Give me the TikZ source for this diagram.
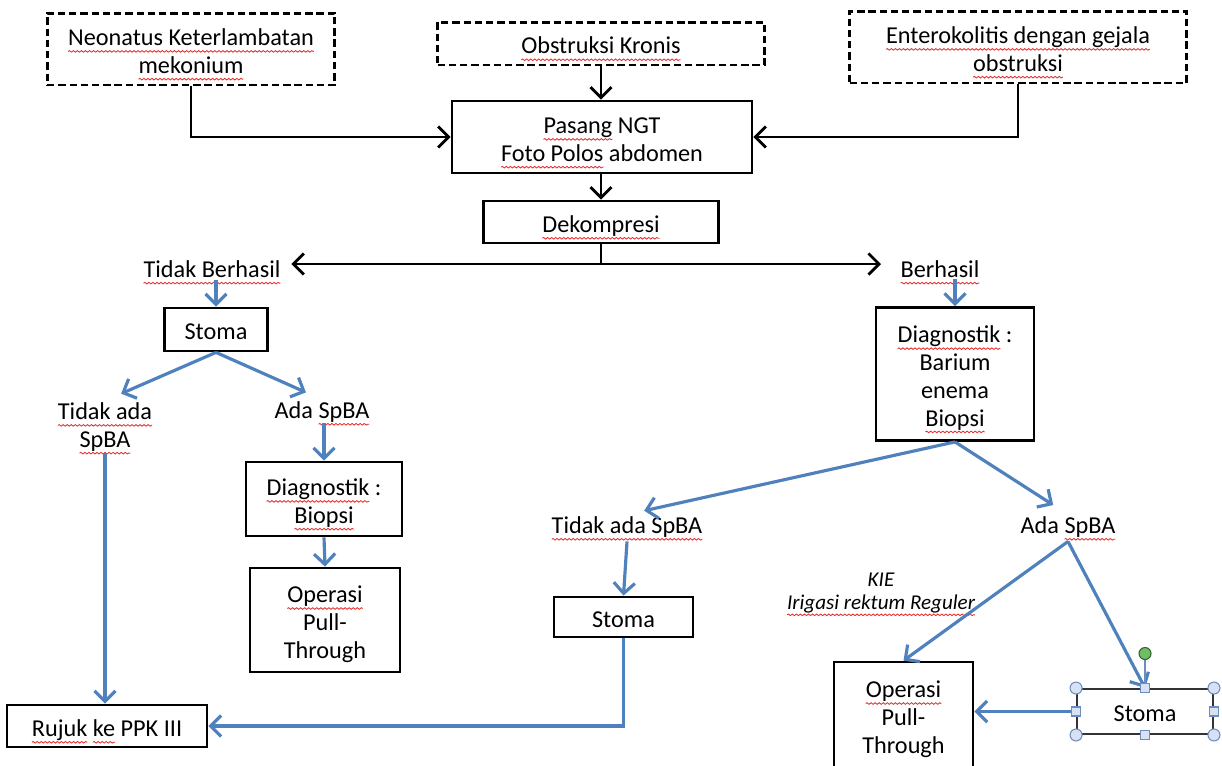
\documentclass[tikz,border=0pt]{standalone}
\usepackage{fontspec}
\setmainfont{Carlito}
\usetikzlibrary{arrows.meta,decorations.pathmorphing}
\definecolor{officeblue}{RGB}{79,129,189}
\definecolor{handlefill}{RGB}{214,226,242}
\definecolor{handledraw}{RGB}{110,140,190}
\definecolor{rotgreen}{RGB}{110,190,100}
\definecolor{spellred}{RGB}{230,50,50}
\newlength\sqlen
\newcommand\sqw[1]{\setbox0=\hbox{#1}\sqlen=\wd0\leavevmode\rlap{\copy0}\tikz[baseline=0pt]{\useasboundingbox (0pt,0pt) rectangle (\sqlen,0pt);\draw[spellred, line width=0.5pt, decorate, decoration={snake, amplitude=0.45pt, segment length=2.3pt}] (0pt,-3.3pt) -- (\sqlen,-3.3pt);}}
\newcommand\tx[1]{\raisebox{-2.8pt}[\height][\depth]{\begin{tabular}{@{}c@{}}#1\end{tabular}}}
\begin{document}
\begin{tikzpicture}[x=0.02cm,y=-0.02cm,
  font=\fontsize{13.8}{15.8}\selectfont,
  box/.style={draw=black, line width=1.6pt, align=center, inner sep=0pt},
  dbox/.style={box, line width=1.7pt, dash pattern=on 4.2pt off 2.2pt},
  lbl/.style={align=center, inner sep=1pt},
  blk/.style={draw=black, line width=1.6pt, -{Straight Barb[length=6pt,width=12pt,line width=1.6pt]}},
  blkboth/.style={draw=black, line width=1.6pt, {Straight Barb[length=6pt,width=12pt,line width=1.6pt]}-{Straight Barb[length=6pt,width=12pt,line width=1.6pt]}},
  blkline/.style={draw=black, line width=1.6pt},
  blu/.style={draw=officeblue, line width=1.8pt, -{Straight Barb[length=6pt,width=12pt,line width=1.8pt]}},
  hcirc/.style={circle, draw=handledraw, fill=handlefill, line width=0.6pt, minimum size=0.24cm, inner sep=0pt},
  hsq/.style={rectangle, draw=handledraw, fill=handlefill, line width=0.6pt, minimum size=0.18cm, inner sep=0pt},
]
\useasboundingbox (0,0) rectangle (1222,765);

% top row
\node[dbox, minimum width=5.76cm, minimum height=1.44cm] (neo) at (191,49) {\tx{\sqw{Neonatus Keterlambatan}\\\sqw{mekonium}}};
\node[dbox, minimum width=6.54cm, minimum height=0.86cm] (obs) at (601,43.5) {\tx{\sqw{Obstruksi Kronis}}};
\node[dbox, minimum width=6.74cm, minimum height=1.44cm] (ent) at (1018,47) {\tx{\sqw{Enterokolitis dengan gejala}\\\sqw{obstruksi}}};
\node[box, minimum width=6.0cm, minimum height=1.44cm] (pas) at (602,137) {\tx{\sqw{Pasang} NGT\\\sqw{Foto Polos} abdomen}};
\node[box, minimum width=4.7cm, minimum height=0.84cm] (dek) at (601,222) {\tx{\sqw{Dekompresi}}};

\draw[blk] (neo.south) |- (pas.west);
\draw[blk] (obs.south) -- (obs.south |- pas.north);
\draw[blk] (ent.south) |- (pas.east);
\draw[blk] (pas.south -| dek.north) -- (dek.north);

% split
\node[lbl] (tb) at (212,269) {\sqw{Tidak Berhasil}};
\node[lbl] (be) at (940,269) {\sqw{Berhasil}};
\coordinate (split) at (601,264);
\draw[blkline] (dek.south) -- (split);
\draw[blkboth, shorten <=5pt, shorten >=10pt] (tb.east |- split) -- (be.west |- split);

% left branch
\node[box, minimum width=2.06cm, minimum height=0.86cm] (st1) at (216,329.5) {\tx{Stoma}};
\node[lbl] (tas1) at (105,427) {\sqw{Tidak ada}\\\sqw{SpBA}};
\node[lbl] (as1) at (322,412) {Ada \sqw{SpBA}};
\node[box, minimum width=3.12cm, minimum height=1.48cm] (dg1) at (324,499) {\tx{\sqw{Diagnostik} :\\\sqw{Biopsi}}};
\node[box, minimum width=3.0cm, minimum height=2.08cm] (op1) at (325,620) {\tx{\sqw{Operasi}\\Pull-\\Through}};
\node[box, minimum width=4.0cm, minimum height=0.84cm] (ruj) at (107,726) {\tx{\sqw{Rujuk} \sqw{ke} PPK III}};

\draw[blu] (st1.north) ++(0,-27) -- (st1.north);
\draw[blu, shorten >=10pt] (st1.south) -- (tas1.north);
\draw[blu, shorten >=10pt] (st1.south) -- (as1.north);
\draw[blu] (tas1.south) -- (tas1.south |- ruj.north);
\draw[blu] (dg1.north) ++(0,-38) -- (dg1.north);
\draw[blu] (dg1.south) -- (op1.north);

% right branch
\node[box, minimum width=3.16cm, minimum height=2.66cm] (dg2) at (955,374) {\tx{\sqw{Diagnostik} :\\Barium\\enema\\\sqw{Biopsi}}};
\node[lbl] (tas2) at (627,527) {\sqw{Tidak ada SpBA}};
\node[lbl] (as2) at (1068,527) {Ada \sqw{SpBA}};
\node[box, minimum width=2.78cm, minimum height=0.8cm] (st2) at (623.5,617) {\tx{Stoma}};
\node[lbl, font=\fontsize{12}{12.6}\selectfont\itshape] (kie) at (881,593) {KIE\\\sqw{Irigasi rektum Reguler}};
\node[box, minimum width=2.78cm, minimum height=2.12cm] (op2) at (903.5,715) {\tx{\sqw{Operasi}\\Pull-\\Through}};
\node[draw=black!80, line width=1.1pt, minimum width=2.72cm, minimum height=0.9cm, inner sep=0pt] (st3) at (1145,711.5) {\tx{Stoma}};

\draw[blu] (dg2.north) ++(0,-27) -- (dg2.north);
\draw[blu, shorten >=10pt] (dg2.south) -- (tas2.north);
\draw[blu, shorten >=10pt] (dg2.south) -- (as2.north);
\draw[blu] (tas2.south) ++(0,2) -- (st2.north);
\draw[blu] (st2.south) |- (ruj.east);
\draw[blu] (as2.south) ++(0,2) coordinate (asb) -- (op2.north);
\draw[blu] (asb) -- (st3.north);
\draw[blu] (st3.west) -- (st3.west -| op2.east);

% selection handles on right Stoma
\draw[handledraw, line width=0.6pt] (st3.north) -- ++(0,-28) node[circle, draw=black!50!rotgreen, fill=rotgreen, line width=0.6pt, minimum size=0.24cm, inner sep=0pt, anchor=south] (rot) {};
\foreach \a in {north west, north east, south west, south east}
  \node[hcirc] at (st3.\a) {};
\foreach \a in {north, south, west, east}
  \node[hsq] at (st3.\a) {};
\end{tikzpicture}
\end{document}
